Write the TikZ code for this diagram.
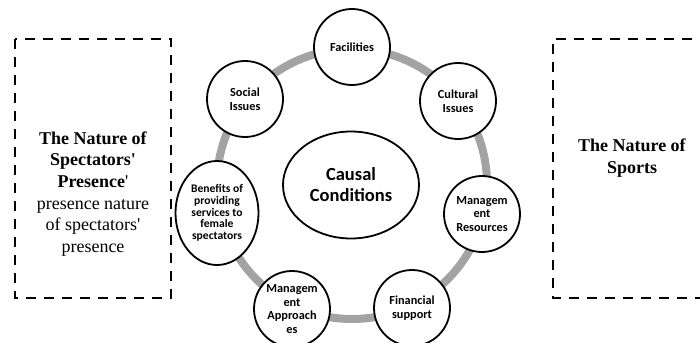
\documentclass[tikz,border=0pt]{standalone}
\usepackage{fontspec}
\setmainfont{Liberation Serif}
\newfontfamily\carl{Carlito}
\usetikzlibrary{shapes.geometric}
\definecolor{ringgray}{HTML}{A3A3A3}
\tikzset{
  bubble/.style={circle, draw=black, line width=1.8pt, fill=white, minimum size=76pt, inner sep=0pt, align=center, font=\carl\bfseries\fontsize{12.3}{13.6}\selectfont},
  bigoval/.style={ellipse, draw=black, line width=1.8pt, fill=white, inner sep=0pt, align=center},
  dashbox/.style={draw=black, line width=2.2pt, dash pattern=on 10pt off 8pt},
  boxtext/.style={align=center, inner sep=0pt, font=\fontsize{18}{21.7}\selectfont},
  ring/.style={draw=ringgray, line width=8pt}
}
\begin{document}
\begin{tikzpicture}[x=1pt,y=-1pt]
\useasboundingbox (0,0) rectangle (700,342);
\clip (0,0) rectangle (700,342);
% dashed boxes
\draw[dashbox] (15,39) rectangle (171,298);
\draw[dashbox] (710,39) -- (553,39) -- (553,298) -- (710,298);
\node[boxtext] (left) at (93,194) {\textbf{The Nature of}\\\textbf{Spectators\textquotesingle}\\\textbf{Presence}\textquotesingle\\presence nature\\of spectators\textquotesingle\\presence};
\node[boxtext] (right) at (632,158.4) {\textbf{The Nature of}\\\textbf{Sports}};
% ring
\coordinate (c) at (352,184);
\draw[ring] (c) circle[radius=135];
% center
\node[bigoval, minimum width=136pt, minimum height=107pt, font=\carl\bfseries\fontsize{18.5}{21}\selectfont] (causal) at (351,185) {Causal\\Conditions};
% ring nodes
\node[bubble] (fac) at (352,47) {Facilities};
\node[bubble] (cult) at (458,101) {Cultural\\Issues};
\node[bubble] (mres) at (482,214) {Managem\\ent\\Resources};
\node[bubble] (fin) at (412,308) {Financial\\support};
\node[bubble] (mapp) at (292,309) {Managem\\ent\\Approach\\es};
\node[bigoval, minimum width=83pt, minimum height=104pt, font=\carl\bfseries\fontsize{11.6}{11.6}\selectfont] (ben) at (217,213) {Benefits of\\providing\\services to\\female\\spectators};
\node[bubble] (soc) at (245,99) {Social\\Issues};
\end{tikzpicture}
\end{document}
